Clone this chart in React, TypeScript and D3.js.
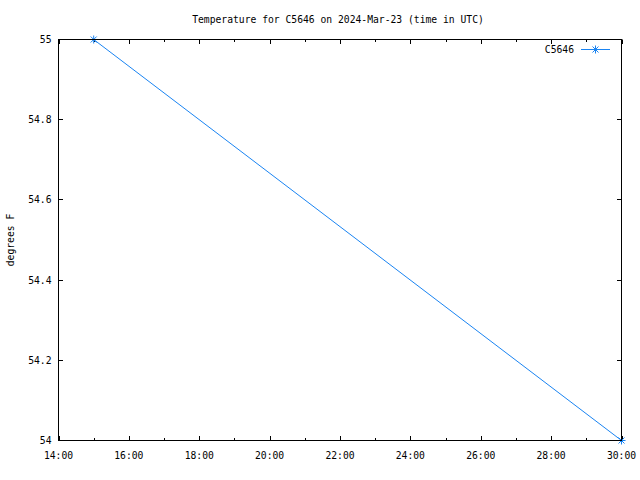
import React from "react";
import * as d3 from "d3";

const title = "Temperature for C5646 on 2024-Mar-23 (time in UTC)";
const seriesName = "C5646";
const times = [15, 30];
const temps = [55, 54];
const xTickValues = [14, 16, 18, 20, 22, 24, 26, 28, 30];
const xMinorTicks = [15, 17, 19, 21, 23, 25, 27, 29];
const yTickValues = [54, 54.2, 54.4, 54.6, 54.8, 55];
const yLabel = "degrees F";

const W = 640;
const H = 480;
const L = 58.5;
const R = 621.5;
const T = 39.5;
const B = 440.5;
const COLOR = "#1a84f2";
const FONT = "'DejaVu Sans Mono', 'Liberation Mono', monospace";

function Star({ x, y }: { x: number; y: number }) {
  const s = 4;
  return (
    <g stroke={COLOR} strokeWidth={1}>
      <line x1={x - s} y1={y} x2={x + s} y2={y} />
      <line x1={x} y1={y - s} x2={x} y2={y + s} />
      <line x1={x - s * 0.75} y1={y - s * 0.75} x2={x + s * 0.75} y2={y + s * 0.75} />
      <line x1={x - s * 0.75} y1={y + s * 0.75} x2={x + s * 0.75} y2={y - s * 0.75} />
    </g>
  );
}

export default function App() {
  const x = d3.scaleLinear().domain([14, 30]).range([L, R]);
  const y = d3.scaleLinear().domain([54, 55]).range([B, T]);
  const line = d3
    .line<number>()
    .x((_, i) => x(times[i]))
    .y((d) => y(d));
  const fmtX = (v: number) => `${v}:00`;
  const fmtY = (v: number) => (Math.round(v * 10) / 10).toString();

  return (
    <svg
      width={W}
      height={H}
      style={{ position: "absolute", left: 0, top: 0, background: "#fff" }}
      fontFamily={FONT}
      fontSize={9.7}
    >
      <rect x={0} y={0} width={W} height={H} fill="#fff" />
      <text x={338} y={23} textAnchor="middle" fill="#000">
        {title}
      </text>
      <text
        transform={`translate(14,240) rotate(-90)`}
        textAnchor="middle"
        fill="#000"
      >
        {yLabel}
      </text>
      <g stroke="#000" strokeWidth={1}>
        {xTickValues.map((v) => (
          <g key={"xt" + v}>
            <line x1={Math.round(x(v)) + 0.5} y1={B} x2={Math.round(x(v)) + 0.5} y2={B - 4.5} />
            <line x1={Math.round(x(v)) + 0.5} y1={T} x2={Math.round(x(v)) + 0.5} y2={T + 4.5} />
          </g>
        ))}
        {xMinorTicks.map((v) => (
          <g key={"xm" + v}>
            <line x1={Math.round(x(v)) + 0.5} y1={B} x2={Math.round(x(v)) + 0.5} y2={B - 2.5} />
            <line x1={Math.round(x(v)) + 0.5} y1={T} x2={Math.round(x(v)) + 0.5} y2={T + 2.5} />
          </g>
        ))}
        {yTickValues.map((v) => (
          <g key={"yt" + v}>
            <line x1={L} y1={Math.round(y(v) - 0.5) + 0.5} x2={L + 4.5} y2={Math.round(y(v) - 0.5) + 0.5} />
            <line x1={R} y1={Math.round(y(v) - 0.5) + 0.5} x2={R - 4.5} y2={Math.round(y(v) - 0.5) + 0.5} />
          </g>
        ))}
      </g>
      {xTickValues.map((v) => (
        <text key={"xl" + v} x={x(v)} y={B + 18} textAnchor="middle" fill="#000">
          {fmtX(v)}
        </text>
      ))}
      {yTickValues.map((v) => (
        <text key={"yl" + v} x={L - 7} y={y(v) + 3.5} textAnchor="end" fill="#000">
          {fmtY(v)}
        </text>
      ))}
      <path d={line(temps) || ""} fill="none" stroke={COLOR} strokeWidth={1} />
      {temps.map((t, i) => (
        <Star key={"p" + i} x={x(times[i])} y={y(t)} />
      ))}
      <rect x={L} y={T} width={R - L} height={B - T} fill="none" stroke="#000" strokeWidth={1} />
      <text x={574} y={53} textAnchor="end" fill="#000">
        {seriesName}
      </text>
      <line x1={581} y1={49.5} x2={610} y2={49.5} stroke={COLOR} strokeWidth={1} />
      <Star x={595.5} y={49.5} />
    </svg>
  );
}
